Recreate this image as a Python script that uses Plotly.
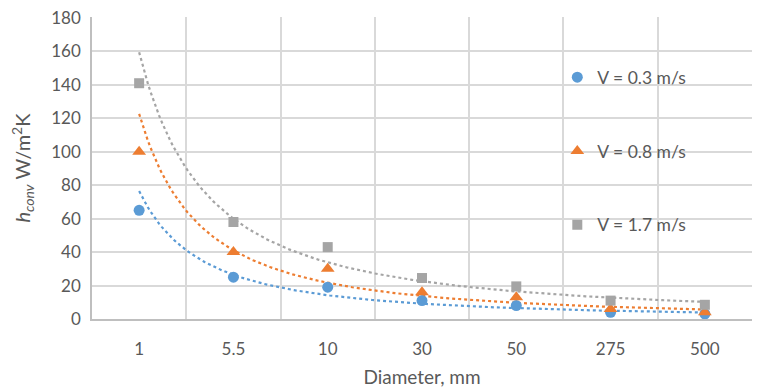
import numpy as np
import plotly.graph_objects as go

categories = ["1", "5.5", "10", "30", "50", "275", "500"]
v03 = [65, 25, 19, 11, 8, 4, 3]
v08 = [100, 40, 30, 16, 13, 6, 4]
v17 = [141, 58, 43, 24.5, 19.5, 11, 8.5]

series = [
    ("V = 0.3 m/s", v03, "#5B9BD5", "circle", 11),
    ("V = 0.8 m/s", v08, "#ED7D31", "triangle-up", 12),
    ("V = 1.7 m/s", v17, "#A5A5A5", "square", 10),
]

xi = np.arange(1, len(categories) + 1)
xs = np.linspace(1, len(categories), 200)

fig = go.Figure()
for name, vals, color, sym, size in series:
    # power trendline fitted on category index (Excel-style)
    b, a = np.polyfit(np.log(xi), np.log(vals), 1)
    fig.add_trace(go.Scatter(
        x=xs, y=np.exp(a) * xs ** b, mode="lines",
        line=dict(color=color, width=2.2, dash="dot"),
        showlegend=False, hoverinfo="skip"))
for name, vals, color, sym, size in series:
    fig.add_trace(go.Scatter(
        x=xi, y=vals, mode="markers", name=name, legendgroup=name,
        marker=dict(color=color, symbol=sym, size=size)))

font_color = "#595959"
grid_color = "#D9D9D9"

fig.update_layout(
    width=765, height=388,
    margin=dict(l=92, r=13, t=17, b=69),
    paper_bgcolor="white", plot_bgcolor="white",
    font=dict(family="Lato, Liberation Sans, sans-serif", size=17, color=font_color),
    showlegend=True,
    legend=dict(x=0.705, y=0.86, xanchor="left", yanchor="top",
                bgcolor="rgba(0,0,0,0)", tracegroupgap=48,
                font=dict(size=17.5, color=font_color), itemwidth=30),
    xaxis=dict(
        range=[0.5, len(categories) + 0.5],
        tickvals=list(xi), ticktext=categories,
        showgrid=False, zeroline=False, automargin=False,
        showline=True, linecolor="#BFBFBF", linewidth=1.5,
        ticks="", ticklabelstandoff=14,
        minor=dict(tickvals=list(np.arange(1.5, len(categories) + 1, 1.0)),
                   showgrid=True, gridcolor=grid_color, gridwidth=1.5, ticks=""),
        title=dict(text="Diameter, mm", font=dict(size=19, color=font_color)),
    ),
    yaxis=dict(
        range=[0, 180.6], tickvals=list(range(0, 181, 20)), automargin=False,
        showgrid=True, gridcolor=grid_color, gridwidth=1.5,
        zeroline=False, showline=True, linecolor="#BFBFBF", linewidth=1.5,
        ticks="", ticklabelstandoff=6,
        title=dict(text="<i>h<sub>conv</sub></i> W/m<sup>2</sup>K",
                   font=dict(size=20, color=font_color)),
    ),
)

fig.write_html(
    "out.html",
    config={"displayModeBar": False},
    post_script="document.body.style.margin='0';document.body.style.overflow='hidden';",
)
